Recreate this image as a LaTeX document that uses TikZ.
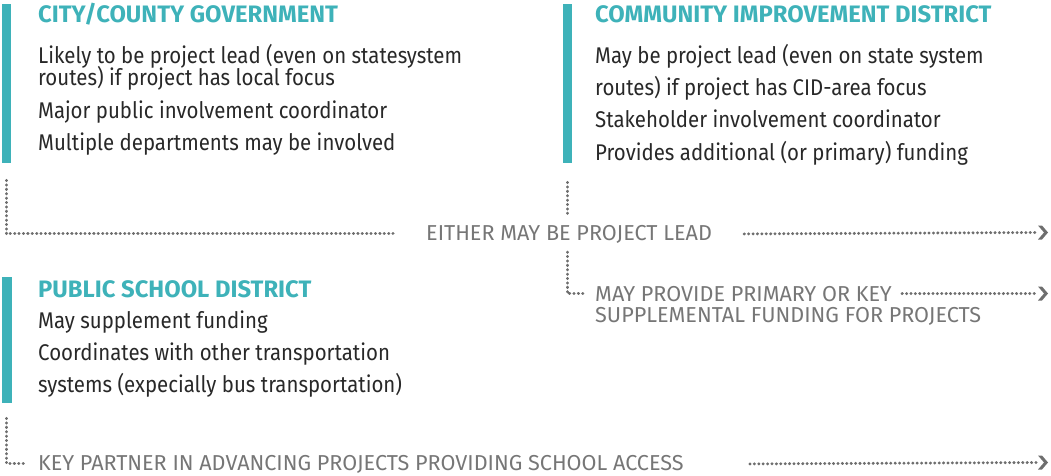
\documentclass[tikz,border=0pt]{standalone}
\usepackage{fontspec}
\setmainfont{Fira Sans}
\newfontfamily\dinbody[FakeStretch=0.9]{Fira Sans}
\newfontfamily\dintitle{Fira Sans}
\newfontfamily\dinlab{Fira Sans}
\definecolor{teal}{RGB}{62,178,185}
\definecolor{bodytext}{RGB}{40,40,40}
\definecolor{labelgray}{RGB}{118,118,118}
\definecolor{dotgray}{RGB}{110,110,110}
\tikzset{
  bar/.style={fill=teal, draw=none, minimum width=9.5pt, inner sep=0pt, anchor=north west},
  title/.style={anchor=base west, inner sep=0pt, text=teal, font=\dintitle\bfseries\fontsize{23.8pt}{24pt}\selectfont},
  body/.style={anchor=base west, inner sep=0pt, text=bodytext, font=\dinbody\fontsize{22.7pt}{23pt}\selectfont},
  lab/.style={anchor=base west, inner sep=0pt, text=labelgray, font=\dinlab\fontsize{21.6pt}{22pt}\selectfont},
  dotline/.style={draw=dotgray, line width=3pt, line cap=round, dash pattern=on 0.3pt off 4.1pt},
  chevron/.style={fill=dotgray, draw=none},
  pics/chev/.style={code={\path[chevron] (0pt,0pt) -- (-6pt,7pt) -- (-10pt,7pt) -- (-4pt,0pt) -- (-10pt,-7pt) -- (-6pt,-7pt) -- cycle;}}
}
\begin{document}
\begin{tikzpicture}[x=1pt,y=-1pt]
\useasboundingbox (0,0) rectangle (1051,475);

% City/County Government
\node[bar, minimum height=159pt] (cgbar) at (1.5,4) {};
\node[title] (cgt) at (38,22) {CITY/COUNTY GOVERNMENT};
\node[body] (cg1) at (38,63) {Likely to be project lead (even on statesystem};
\node[body] (cg2) at (38,85) {routes) if project has local focus};
\node[body] (cg3) at (38,118) {Major public involvement coordinator};
\node[body] (cg4) at (38,150) {Multiple departments may be involved};

% Community Improvement District
\node[bar, minimum height=159pt] (cidbar) at (562.5,4) {};
\node[title] (cidt) at (595,22) {COMMUNITY IMPROVEMENT DISTRICT};
\node[body] (cid1) at (595,63) {May be project lead (even on state system};
\node[body] (cid2) at (595,95) {routes) if project has CID-area focus};
\node[body] (cid3) at (595,127) {Stakeholder involvement coordinator};
\node[body] (cid4) at (595,160) {Provides additional (or primary) funding};

% Public School District
\node[bar, minimum height=126pt] (psbar) at (2,277) {};
\node[title] (pst) at (38,297) {PUBLIC SCHOOL DISTRICT};
\node[body] (ps1) at (38,328) {May supplement funding};
\node[body] (ps2) at (38,360) {Coordinates with other transportation};
\node[body] (ps3) at (38,392) {systems (expecially bus transportation)};

% Labels
\node[lab] (either) at (426,240) {EITHER MAY BE PROJECT LEAD};
\node[lab] (may1) at (595,301) {MAY PROVIDE PRIMARY OR KEY};
\node[lab] (may2) at (595,322) {SUPPLEMENTAL FUNDING FOR PROJECTS};
\node[lab] (key) at (38,470) {KEY PARTNER IN ADVANCING PROJECTS PROVIDING SCHOOL ACCESS};

% Arrow ends
\coordinate (end1) at (1036,232.5);
\coordinate (end2) at (1036,293.5);
\coordinate (end3) at (1036,462.5);
\coordinate (cidstub) at (567,252);

% Connectors
\draw[dotline] ([yshift=-17pt]cgbar.south) |- ([xshift=-33pt]either.west);
\draw[dotline] ([xshift=32pt]either.east) -- (end1);
\pic at ([xshift=12pt]end1) {chev};

\draw[dotline] ([yshift=-19pt]cidbar.south) -- ([yshift=-50pt]cidbar.south);
\draw[dotline] (cidstub) |- ([xshift=-8pt]may1.west);
\draw[dotline] ([xshift=10pt]may1.east) -- (end2);
\pic at ([xshift=12pt]end2) {chev};

\draw[dotline] ([yshift=-15pt]psbar.south) |- ([xshift=-13pt]key.west);
\draw[dotline] ([xshift=66pt]key.east) -- (end3);
\pic at ([xshift=12pt]end3) {chev};
\end{tikzpicture}
\end{document}
